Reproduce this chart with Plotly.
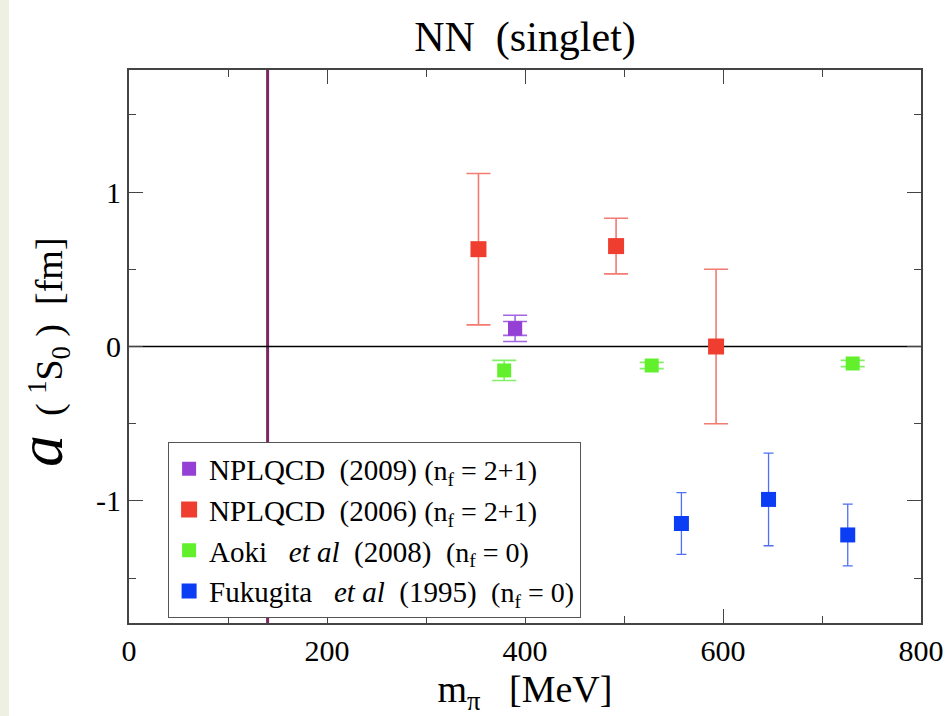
import plotly.graph_objects as go

# ---- data ----
m_pi_phys = 140  # physical pion mass [MeV]

npl09_x = [390]
npl09_y = [0.117]
npl09_err_outer = [0.085]
npl09_err_inner = [0.045]

npl06_x = [353, 492, 593]
npl06_y = [0.63, 0.65, 0.0]
npl06_err = [0.49, 0.18, 0.50]

aoki_x = [379, 528, 731]
aoki_y = [-0.155, -0.123, -0.11]
aoki_err = [0.065, 0.02, 0.02]

fuku_x = [558, 646, 726]
fuku_y = [-1.146, -0.99, -1.22]
fuku_err = [0.20, 0.30, 0.20]

x_tickvals = [0, 200, 400, 600, 800]
x_ticktext = ["0", "200", "400", "600", "800"]
y_tickvals = [-1, 0, 1]
y_ticktext = ["-1", "0", "1"]

NB = "\u00a0"
nf = lambda v: f"<span style='font-size:28px'>(n<sub>f</sub>{NB}={NB}{v})</span>"
names = [
    f"NPLQCD{NB}{NB}(2009){NB}" + nf("2+1"),
    f"NPLQCD{NB}{NB}(2006){NB}" + nf("2+1"),
    f"Aoki{NB}{NB}{NB}<i>et al</i>{NB}{NB}(2008){NB}{NB}" + nf("0"),
    f"Fukugita{NB}{NB}{NB}<i>et al</i>{NB}{NB}(1995){NB}{NB}" + nf("0"),
]

FONT = "Liberation Serif, Times New Roman, Times, serif"
purple, red, green, blue = "#9440d4", "#ef3e2f", "#62f02c", "#0b3df5"

fig = go.Figure()

# purple: inner (stat) error bars, no legend
fig.add_trace(go.Scatter(
    x=npl09_x, y=npl09_y, mode="markers", showlegend=False,
    marker=dict(symbol="square", size=14, color=purple),
    error_y=dict(type="data", array=npl09_err_inner, color="#a465e0", thickness=1.6, width=12),
))
fig.add_trace(go.Scatter(
    x=npl09_x, y=npl09_y, mode="markers", name=names[0],
    marker=dict(symbol="square", size=14, color=purple),
    error_y=dict(type="data", array=npl09_err_outer, color="#a465e0", thickness=1.6, width=12),
))
fig.add_trace(go.Scatter(
    x=npl06_x, y=npl06_y, mode="markers", name=names[1],
    marker=dict(symbol="square", size=16, color=red),
    error_y=dict(type="data", array=npl06_err, color="#f27b72", thickness=1.6, width=12),
))
fig.add_trace(go.Scatter(
    x=aoki_x, y=aoki_y, mode="markers", name=names[2],
    marker=dict(symbol="square", size=14, color=green),
    error_y=dict(type="data", array=aoki_err, color="#84f067", thickness=1.6, width=12),
))
fig.add_trace(go.Scatter(
    x=fuku_x, y=fuku_y, mode="markers", name=names[3],
    marker=dict(symbol="square", size=15, color=blue),
    error_y=dict(type="data", array=fuku_err, color="#4f6ff5", thickness=1.3, width=5),
))

# physical pion mass line
fig.add_shape(type="line", xref="x", yref="paper", x0=m_pi_phys, x1=m_pi_phys, y0=0, y1=1,
              line=dict(color="#7a2862", width=3), layer="below")
# zero line
fig.add_shape(type="line", xref="paper", yref="y", x0=0, x1=1, y0=0, y1=0,
              line=dict(color="black", width=1.6), layer="below")

# light strip at the left page edge
fig.add_shape(type="rect", xref="paper", yref="paper", x0=-0.1629, x1=-0.1515, y0=-0.2, y1=1.15,
              fillcolor="#eef0e2", line=dict(width=0), layer="below")

axis_common = dict(
    showline=True, linecolor="#444444", linewidth=2, mirror="ticks",
    ticks="inside", ticklen=14, tickwidth=1.3, tickcolor="#444444",
    showgrid=False, zeroline=False, tickfont=dict(family=FONT, size=30, color="black"),
)

fig.update_xaxes(
    range=[0, 800], tickmode="array", tickvals=x_tickvals, ticktext=x_ticktext,
    minor=dict(ticks="inside", ticklen=7, tickwidth=1.3, tickcolor="#444444", dtick=100),
    title=dict(text=f"m<sub>π</sub>{NB}{NB}{NB}[MeV]", font=dict(family=FONT, size=38, color="black"), standoff=12),
    **axis_common,
)
fig.update_yaxes(
    range=[-1.79, 1.79], tickmode="array", tickvals=y_tickvals, ticktext=y_ticktext,
    minor=dict(ticks="inside", ticklen=7, tickwidth=1.3, tickcolor="#444444", dtick=0.5),
    **axis_common,
)

# y-axis title as a rotated annotation for exact placement
fig.add_annotation(
    text=f"<span style='font-size:64px'><i>a</i></span>{NB}{NB}({NB}<sup>1</sup>S<sub>0</sub>{NB})"
         f"{NB}{NB}[fm]",
    font=dict(family=FONT, size=38, color="black"),
    textangle=-90, xref="paper", yref="paper", x=(40 - 129) / 792, y=0.49,
    xanchor="center", yanchor="middle", showarrow=False, borderpad=0,
)

fig.update_layout(
    width=949, height=716,
    margin=dict(l=129, r=28, t=70, b=93, autoexpand=False),
    paper_bgcolor="white", plot_bgcolor="white",
    title=dict(text=f"NN{NB}{NB}(singlet)", font=dict(family=FONT, size=42, color="black"),
               x=0.5, xanchor="center", y=1 - 36 / 716, yanchor="middle", xref="paper"),
    legend=dict(
        x=0.049, y=0.327, xanchor="left", yanchor="top",
        bgcolor="white", bordercolor="#555555", borderwidth=1.3,
        font=dict(family=FONT, size=29, color="black"),
        itemwidth=30, tracegroupgap=0,
    ),
    showlegend=True,
)

fig.write_html("out.html")
